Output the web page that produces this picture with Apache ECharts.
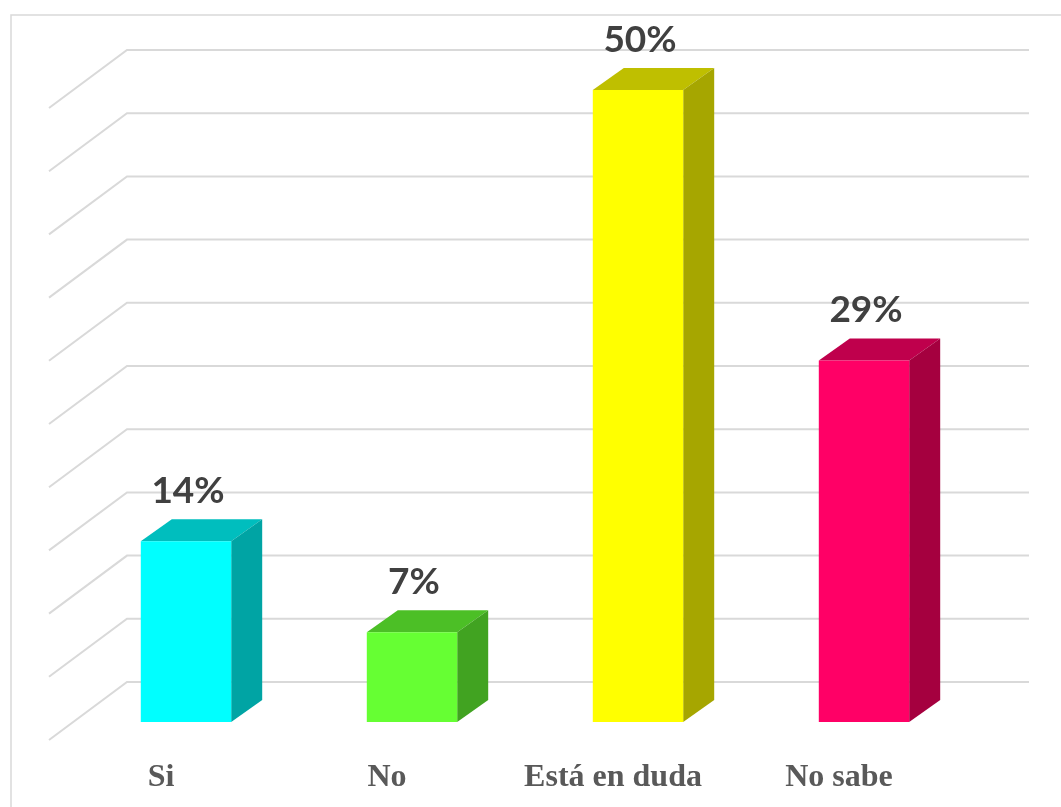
<!DOCTYPE html>
<html>
<head>
<meta charset="utf-8">
<script src="https://cdn.jsdelivr.net/npm/echarts@6/dist/echarts.min.js"></script>
<style>
html,body{margin:0;padding:0;background:#fff;}
#chart{width:1061px;height:807px;}
</style>
</head>
<body>
<div id="chart"></div>
<script>
// ---- data ----
const categories = ['Si', 'No', 'Está en duda', 'No sabe'];
const values = [14.3, 7.1, 50, 28.6];
const valueTicks = [0, 5, 10, 15, 20, 25, 30, 35, 40, 45, 50];

// ---- styles ----
const frontColors = ['#00FFFF', '#66FF33', '#FFFF00', '#FF0066'];
const topColors   = ['#00BEBE', '#4CBF26', '#BFBF00', '#BF004C'];
const sideColors  = ['#00A4A4', '#41A321', '#A6A600', '#A5003F'];

// 3D depth offsets (pixels)
const BAR_DX = 31, BAR_DY = -22;      // bar depth
const WALL_DX = 54, WALL_DY = -40;    // back wall relative to bar front plane
const FLOOR_DX = -24, FLOOR_DY = 18;  // front edge of floor relative to bar front plane

const chart = echarts.init(document.getElementById('chart'));

function gridRender(params, api) {
  const cs = params.coordSys;
  const y = api.coord([0, api.value(1)])[1];
  const bx0 = cs.x + WALL_DX, by = y + WALL_DY;
  const bx1 = cs.x + cs.width + WALL_DX - 2;
  return {
    type: 'polyline',
    shape: { points: [[cs.x + FLOOR_DX, y + FLOOR_DY], [bx0, by], [bx1, by]] },
    style: { fill: null, stroke: '#D9D9D9', lineWidth: 2 }
  };
}

function barRender(params, api) {
  const idx = api.value(0);
  const v = api.value(1);
  const topPt = api.coord([idx, v]);
  const basePt = api.coord([idx, 0]);
  const bw = api.size([1, 0])[0] * 0.4;
  const cx = topPt[0], top = topPt[1], base = basePt[1];
  const l = cx - bw / 2, r = cx + bw / 2;
  return {
    type: 'group',
    children: [
      { type: 'polygon', shape: { points: [[l, top], [r, top], [r + BAR_DX, top + BAR_DY], [l + BAR_DX, top + BAR_DY]] }, style: { fill: topColors[idx] } },
      { type: 'polygon', shape: { points: [[r, top], [r + BAR_DX, top + BAR_DY], [r + BAR_DX, base + BAR_DY], [r, base]] }, style: { fill: sideColors[idx] } },
      { type: 'rect', shape: { x: l, y: top, width: bw, height: base - top }, style: { fill: frontColors[idx] } },
      { type: 'text', x: cx + 2, y: top - 50, style: { text: Math.round(v) + '%', fill: '#404040', font: 'bold 37px Lato, "Open Sans", sans-serif', align: 'center', verticalAlign: 'middle' } }
    ]
  };
}

chart.setOption({
  animation: false,
  backgroundColor: '#ffffff',
  graphic: [
    { type: 'rect', shape: { x: 11, y: 15, width: 1100, height: 850 }, style: { fill: null, stroke: '#D9D9D9', lineWidth: 1.5 }, z: -10 }
  ],
  grid: { left: 73, right: 84, top: 90, bottom: 85 },
  xAxis: {
    type: 'category',
    data: categories,
    axisLine: { show: false },
    axisTick: { show: false },
    axisLabel: {
      interval: 0,
      hideOverlap: false,
      margin: 40,
      color: '#595959',
      fontFamily: '"Liberation Serif", "Times New Roman", serif',
      fontWeight: 'bold',
      fontSize: 32,
      padding: [0, 50, 0, 0]
    }
  },
  yAxis: {
    type: 'value',
    min: 0, max: 50, interval: 5,
    axisLine: { show: false },
    axisTick: { show: false },
    axisLabel: { show: false },
    splitLine: { show: false }
  },
  series: [
    { type: 'custom', renderItem: gridRender, data: valueTicks.map(t => [0, t]), z: 1, silent: true },
    { type: 'custom', renderItem: barRender, data: values.map((v, i) => [i, v]), z: 2 }
  ]
});
</script>
</body>
</html>
